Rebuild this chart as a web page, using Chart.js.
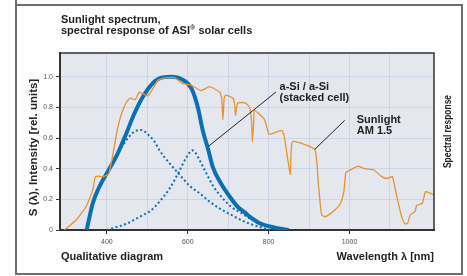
<!DOCTYPE html>
<html>
<head>
<meta charset="utf-8">
<script src="https://cdn.jsdelivr.net/npm/chart.js@4/dist/chart.umd.min.js"></script>
<style>
html,body{margin:0;padding:0;background:#fff;}
canvas{display:block;}
</style>
</head>
<body>
<canvas id="c" width="467" height="276"></canvas>
<script>
// ---- data ----
const sunWavelength = [295,324,348,365,371,378,386,398,405,414,427,439,450,458,470,480,492,501,518,525,538,567,588,608,633,654,679,684,687,690,694,712,716,718,721,724,742,753,758,760,763,765,790,801,832,838,848,854,859,914,923,931,941,964,978,986,991,1001,1021,1038,1061,1079,1092,1106,1117,1129,1137,1144,1150,1162,1166,1180,1188,1199,1209];
const sunIntensity  = [0,0.065,0.15,0.26,0.345,0.352,0.348,0.355,0.37,0.48,0.67,0.78,0.84,0.86,0.85,0.90,0.885,0.875,0.94,0.975,0.99,0.995,0.955,0.946,0.91,0.935,0.90,0.86,0.72,0.86,0.88,0.86,0.82,0.75,0.80,0.83,0.83,0.80,0.70,0.576,0.70,0.78,0.72,0.626,0.65,0.62,0.45,0.363,0.576,0.526,0.30,0.098,0.087,0.13,0.175,0.25,0.374,0.39,0.417,0.40,0.39,0.35,0.336,0.348,0.218,0.087,0.04,0.044,0.098,0.12,0.16,0.174,0.25,0.24,0.23];

const cellWavelength = [350,365,381,402,427,448,468,489,513,530,559,588,609,625,637,650,662,683,704,724,741,753,778,811,850];
const cellResponse   = [0,0.174,0.28,0.38,0.5,0.63,0.76,0.87,0.957,0.99,1.0,0.98,0.924,0.80,0.65,0.53,0.41,0.30,0.217,0.15,0.115,0.087,0.044,0.018,0];

const topWavelength = [350,365,381,402,427,439,455,472,485,505,518,530,555,580,604,629,654,679,708,736,760,785,805];
const topResponse   = [0,0.174,0.28,0.38,0.5,0.55,0.61,0.648,0.652,0.615,0.576,0.52,0.435,0.36,0.29,0.24,0.185,0.14,0.098,0.06,0.035,0.015,0];

const bottomWavelength = [400,425,448,470,489,505,518,530,555,580,598,611,620,629,646,662,683,708,736,753,778,811,840];
const bottomResponse   = [0,0.02,0.04,0.07,0.098,0.12,0.15,0.185,0.27,0.39,0.48,0.52,0.50,0.457,0.37,0.29,0.217,0.15,0.105,0.075,0.04,0.015,0];

const xGridValues   = [400,500,600,700,800,900,1000,1100];
const xTickValues   = [400,600,800,1000];
const xTickLabels   = ['400','600','800','1000'];
const yTickValues   = [0,0.2,0.4,0.6,0.8,1.0];
const yTickLabels   = ['0','0.2','0.4','0.6','0.8','1.0'];

// ---- styling ----
const FONT = '"Liberation Sans", Arial, Helvetica, sans-serif';
const BLUE = '#0b6fb1';
const ORANGE = '#e8922e';
const GRID = '#cbd5e5';
const PLOTBG = '#e5e7ef';
const AXIS = '#333333';

const pts = (xs, ys) => xs.map((x, i) => ({x: x, y: ys[i]}));

const decor = {
  id: 'decor',
  beforeDraw(chart) {
    const c = chart.ctx, a = chart.chartArea;
    c.save();
    c.fillStyle = '#ffffff';
    c.fillRect(0, 0, chart.width, chart.height);
    c.fillStyle = PLOTBG;
    c.fillRect(a.left, a.top, a.right - a.left, a.bottom - a.top);
    c.restore();
  },
  afterDraw(chart) {
    const c = chart.ctx, a = chart.chartArea;
    const xs = chart.scales.x, ys = chart.scales.y;
    const px = v => xs.getPixelForValue(v), py = v => ys.getPixelForValue(v);
    c.save();
    // plot frame (top/right)
    c.strokeStyle = AXIS;
    c.lineWidth = 1.5;
    c.beginPath();
    c.moveTo(a.left, a.top); c.lineTo(a.right, a.top); c.lineTo(a.right, a.bottom);
    c.stroke();
    // outer frame
    c.strokeStyle = '#6e6e6e';
    c.lineWidth = 2;
    c.beginPath();
    c.moveTo(16, 0); c.lineTo(16, 5);
    c.stroke();
    c.strokeRect(16, 5, 446, 269);

    c.fillStyle = '#222';
    c.textBaseline = 'alphabetic';
    c.textAlign = 'left';
    c.font = 'bold 11px ' + FONT;
    c.fillText('Sunlight spectrum,', 61, 22.5);
    let t = 'spectral response of ASI';
    c.fillText(t, 61, 33.5);
    let w = c.measureText(t).width;
    c.font = 'bold 6.5px ' + FONT;
    c.fillText('\u00AE', 61 + w + 0.3, 29.5);
    const w2 = c.measureText('\u00AE').width;
    c.font = 'bold 11px ' + FONT;
    c.fillText(' solar cells', 61 + w + w2 + 0.6, 33.5);

    c.fillText('Qualitative diagram', 61, 260);
    c.textAlign = 'right';
    c.fillText('Wavelength \u03BB [nm]', a.right, 260);

    // y title
    c.save();
    c.translate(37, (a.top + a.bottom) / 2 + 6);
    c.rotate(-Math.PI / 2);
    c.textAlign = 'center';
    c.font = 'bold 11.5px ' + FONT;
    c.fillText('S (\u03BB), Intensity [rel. units]', 0, 0);
    c.restore();
    // right title
    c.save();
    c.translate(450.5, 131.5);
    c.rotate(-Math.PI / 2);
    c.textAlign = 'center';
    c.font = 'bold 10.5px ' + FONT;
    c.fillText('Spectral response', 0, 0, 73);
    c.restore();

    // annotations
    c.textAlign = 'left';
    c.font = 'bold 11px ' + FONT;
    c.fillText('a-Si / a-Si', px(827), py(0.915));
    c.fillText('(stacked cell)', px(827), py(0.845));
    c.fillText('Sunlight', px(1018), py(0.70));
    c.fillText('AM 1.5', px(1018), py(0.625));

    c.strokeStyle = '#222';
    c.lineWidth = 1;
    c.beginPath();
    c.moveTo(px(652), py(0.548)); c.lineTo(px(818), py(0.9));
    c.moveTo(px(914), py(0.526)); c.lineTo(px(988), py(0.715));
    c.stroke();
    c.restore();
  }
};

new Chart(document.getElementById('c').getContext('2d'), {
  type: 'line',
  data: {
    datasets: [
      {label: 'Sunlight AM 1.5', data: pts(sunWavelength, sunIntensity), borderColor: ORANGE, borderWidth: 1.3, pointRadius: 0, tension: 0.15},
      {label: 'a-Si / a-Si (stacked cell)', data: pts(cellWavelength, cellResponse), borderColor: BLUE, borderWidth: 4, pointRadius: 0, cubicInterpolationMode: 'monotone'},
      {label: 'top cell', data: pts(topWavelength, topResponse), borderColor: BLUE, borderWidth: 2, borderDash: [2, 2.5], pointRadius: 0, cubicInterpolationMode: 'monotone'},
      {label: 'bottom cell', data: pts(bottomWavelength, bottomResponse), borderColor: BLUE, borderWidth: 2, borderDash: [2, 2.5], pointRadius: 0, cubicInterpolationMode: 'monotone'}
    ]
  },
  options: {
    responsive: false,
    animation: false,
    devicePixelRatio: 1,
    layout: {padding: {left: 0, top: 53, right: 33, bottom: 0}},
    plugins: {legend: {display: false}, tooltip: {enabled: false}},
    scales: {
      x: {
        type: 'linear', min: 284, max: 1209,
        afterBuildTicks: s => { s.ticks = xGridValues.map(v => ({value: v})); },
        afterFit: s => { s.height = 46; },
        border: {color: AXIS, width: 2},
        grid: {color: GRID, lineWidth: 1, tickLength: 4,
               tickColor: ctx => (ctx.tick && xTickValues.includes(ctx.tick.value)) ? AXIS : 'rgba(0,0,0,0)'},
        ticks: {autoSkip: false, maxRotation: 0, padding: 4, color: '#555', font: {family: FONT, size: 7},
                callback: v => { const i = xTickValues.indexOf(v); return i >= 0 ? xTickLabels[i] : ''; }}
      },
      y: {
        type: 'linear', min: 0, max: 1.155,
        afterBuildTicks: s => { s.ticks = yTickValues.map(v => ({value: v})); },
        afterFit: s => { s.width = 60; },
        border: {color: AXIS, width: 2},
        grid: {color: GRID, lineWidth: 1, tickLength: 4, tickColor: AXIS},
        ticks: {autoSkip: false, padding: 3, color: '#555', font: {family: FONT, size: 7},
                callback: v => { const i = yTickValues.findIndex(t => Math.abs(t - v) < 1e-9); return i >= 0 ? yTickLabels[i] : ''; }}
      }
    }
  },
  plugins: [decor]
});
</script>
</body>
</html>
